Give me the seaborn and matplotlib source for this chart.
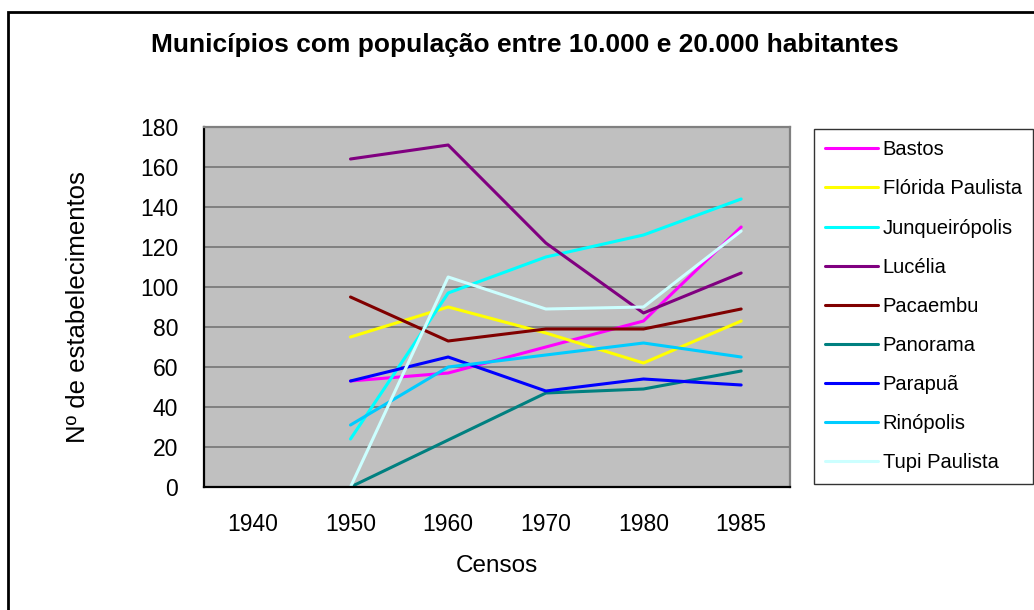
import matplotlib
matplotlib.use("Agg")
import matplotlib.pyplot as plt
from matplotlib.patches import Rectangle
import seaborn as sns
import pandas as pd
import numpy as np

years = ["1940", "1950", "1960", "1970", "1980", "1985"]
bastos = [np.nan, 53, 57, 70, 83, 130]
florida_paulista = [np.nan, 75, 90, 77, 62, 83]
junqueiropolis = [np.nan, 24, 97, 115, 126, 144]
lucelia = [np.nan, 164, 171, 122, 87, 107]
pacaembu = [np.nan, 95, 73, 79, 79, 89]
panorama = [np.nan, 0, 23.5, 47, 49, 58]
parapua = [np.nan, 53, 65, 48, 54, 51]
rinopolis = [np.nan, 31, 60, 66, 72, 65]
tupi_paulista = [np.nan, 0, 105, 89, 90, 128]

series = {
    "Bastos": bastos,
    "Flórida Paulista": florida_paulista,
    "Junqueirópolis": junqueiropolis,
    "Lucélia": lucelia,
    "Pacaembu": pacaembu,
    "Panorama": panorama,
    "Parapuã": parapua,
    "Rinópolis": rinopolis,
    "Tupi Paulista": tupi_paulista,
}
colors = ["#FF00FF", "#FFFF00", "#00FFFF", "#800080", "#800000",
          "#008080", "#0000FF", "#00CCFF", "#CCFFFF"]

rows = []
for name, vals in series.items():
    for i, v in enumerate(vals):
        rows.append({"idx": i, "Censo": years[i], "Município": name, "valor": v})
df = pd.DataFrame(rows).dropna()

sns.set_style("white")
plt.rcParams["font.family"] = ["Liberation Sans", "DejaVu Sans"]
plt.rcParams["text.color"] = "black"
plt.rcParams["axes.labelcolor"] = "black"
plt.rcParams["xtick.color"] = "black"
plt.rcParams["ytick.color"] = "black"

fig = plt.figure(figsize=(10.34, 6.10), dpi=100)
ax = fig.add_axes([204/1034, 1-487/610, (790-204)/1034, (487-127)/610])

palette = dict(zip(series.keys(), colors))
sns.lineplot(data=df, x="idx", y="valor", hue="Município", palette=palette,
             hue_order=list(series.keys()), linewidth=2.2, ax=ax, sort=True,
             estimator=None)

ax.set_facecolor("#C0C0C0")
ax.set_xlim(-0.5, 5.5)
ax.set_ylim(0, 180)
ax.set_yticks(np.arange(0, 181, 20))
ax.yaxis.grid(True, color="#808080", linewidth=1.4)
ax.xaxis.grid(False)
ax.set_axisbelow(True)

ax.set_xticks(np.arange(-0.5, 6, 1))
ax.set_xticklabels([])
ax.set_xticks(np.arange(0, 6), minor=True)
ax.set_xticklabels(years, minor=True)
ax.tick_params(axis="x", which="major", direction="out", length=4.5, width=1, color="black")
ax.tick_params(axis="x", which="minor", length=0, pad=18.5, labelsize=16.5)
ax.tick_params(axis="y", direction="out", length=4.5, width=1, color="black",
               labelsize=16.5, pad=14)

for s in ["top", "right"]:
    ax.spines[s].set_color("#808080")
    ax.spines[s].set_linewidth(1.6)
for s in ["left", "bottom"]:
    ax.spines[s].set_color("black")
    ax.spines[s].set_linewidth(1.6)

ax.set_xlabel("Censos", fontsize=17.5, labelpad=14)
ax.set_ylabel("Nº de estabelecimentos", fontsize=18.5, labelpad=36)

fig.text(0.508, 1-45/610, "Municípios com população entre 10.000 e 20.000 habitantes",
         ha="center", va="center", fontsize=19, fontweight="bold")

leg = ax.legend(loc="upper left", bbox_to_anchor=(814/1034, 1-129/610),
                bbox_transform=fig.transFigure, frameon=True, fancybox=False,
                edgecolor="black", fontsize=14.5, handlelength=2.6,
                labelspacing=1.0, borderpad=0.56, handletextpad=0.25,
                borderaxespad=0)
leg.get_frame().set_linewidth(1.0)
for line in leg.get_lines():
    line.set_linewidth(2.2)

fig.add_artist(Rectangle((8/1034, -0.1), 1.1, 1-12/610+0.1, transform=fig.transFigure,
                         fill=False, edgecolor="black", linewidth=2))

fig.savefig("out.png", dpi=100, facecolor="white")
